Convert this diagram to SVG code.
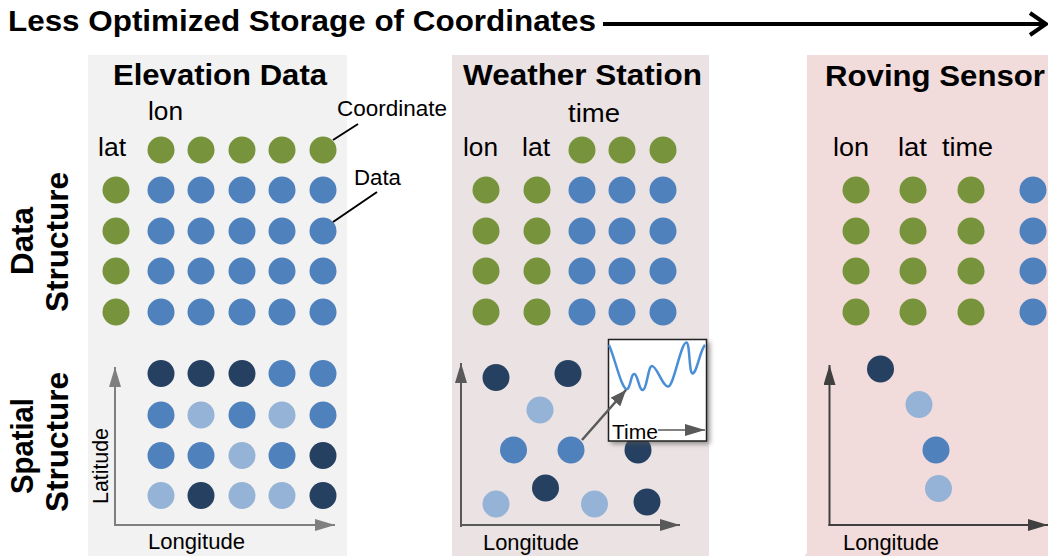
<svg xmlns="http://www.w3.org/2000/svg" width="1048" height="556" viewBox="0 0 1048 556">
<defs>
<style>
text{font-family:"Liberation Sans",Arial,sans-serif;fill:#000}
.b{font-weight:bold}
.hdr{font-size:30px;font-weight:bold;text-anchor:middle}
.lbl{font-size:25px}
.sm{font-size:22px}
.side{font-size:31px;font-weight:bold;text-anchor:middle}
.g{fill:#77933c}
.m{fill:#4f81bd}
.l{fill:#95b3d7}
.d{fill:#254061}
.lead{stroke:#000;stroke-width:2;fill:none}
</style>
<marker id="ah1" markerUnits="userSpaceOnUse" markerWidth="20" markerHeight="12" refX="20" refY="6" orient="auto"><path d="M0,0 L20,6 L0,12 z" fill="#7f7f7f"/></marker>
<marker id="ah2" markerUnits="userSpaceOnUse" markerWidth="20" markerHeight="12" refX="20" refY="6" orient="auto"><path d="M0,0 L20,6 L0,12 z" fill="#595959"/></marker>
<marker id="ah3" markerUnits="userSpaceOnUse" markerWidth="20" markerHeight="12" refX="20" refY="6" orient="auto"><path d="M0,0 L20,6 L0,12 z" fill="#404040"/></marker>
<marker id="ah4" markerUnits="userSpaceOnUse" markerWidth="16" markerHeight="13" refX="16" refY="6.5" orient="auto"><path d="M0,0 L16,6.5 L0,13 z" fill="#595959"/></marker>
<filter id="sh" x="-20%" y="-20%" width="140%" height="140%"><feGaussianBlur stdDeviation="2.5"/></filter>
</defs>
<rect width="1048" height="556" fill="#fff"/>

<g id="title">
<text class="b" x="8" y="31" font-size="29" textLength="588" lengthAdjust="spacingAndGlyphs">Less Optimized Storage of Coordinates</text>
<line x1="603" y1="24" x2="1043" y2="24" stroke="#000" stroke-width="4"/>
<polyline points="1030,13 1046,24 1030,35" fill="none" stroke="#000" stroke-width="4"/>
</g>

<g id="row-labels">
<text class="side" transform="translate(33,241) rotate(-90)" textLength="68" lengthAdjust="spacingAndGlyphs">Data</text>
<text class="side" transform="translate(68,242) rotate(-90)" textLength="140" lengthAdjust="spacingAndGlyphs">Structure</text>
<text class="side" transform="translate(33,446) rotate(-90)" textLength="96" lengthAdjust="spacingAndGlyphs">Spatial</text>
<text class="side" transform="translate(68,442) rotate(-90)" textLength="140" lengthAdjust="spacingAndGlyphs">Structure</text>
</g>

<g id="elevation">
<rect x="88" y="55" width="259" height="501" fill="#f2f2f2"/>
<text class="hdr" x="220" y="85" textLength="214" lengthAdjust="spacingAndGlyphs">Elevation Data</text>
<text class="lbl" x="148" y="120" textLength="35" lengthAdjust="spacingAndGlyphs">lon</text>
<text class="lbl" x="98" y="156" textLength="28" lengthAdjust="spacingAndGlyphs">lat</text>
<text class="sm" x="337" y="116" textLength="110" lengthAdjust="spacingAndGlyphs">Coordinate</text>
<text class="sm" x="354" y="185" textLength="47" lengthAdjust="spacingAndGlyphs">Data</text>
<g id="elev-data">
<circle class="g" cx="161" cy="150" r="13.5"/><circle class="g" cx="201" cy="150" r="13.5"/><circle class="g" cx="242" cy="150" r="13.5"/><circle class="g" cx="282" cy="150" r="13.5"/><circle class="g" cx="323" cy="150" r="13.5"/>
<circle class="g" cx="116" cy="190" r="13.5"/><circle class="g" cx="116" cy="231" r="13.5"/><circle class="g" cx="116" cy="271" r="13.5"/><circle class="g" cx="116" cy="312" r="13.5"/>
<circle class="m" cx="161" cy="190" r="13.5"/><circle class="m" cx="201" cy="190" r="13.5"/><circle class="m" cx="242" cy="190" r="13.5"/><circle class="m" cx="282" cy="190" r="13.5"/><circle class="m" cx="323" cy="190" r="13.5"/>
<circle class="m" cx="161" cy="231" r="13.5"/><circle class="m" cx="201" cy="231" r="13.5"/><circle class="m" cx="242" cy="231" r="13.5"/><circle class="m" cx="282" cy="231" r="13.5"/><circle class="m" cx="323" cy="231" r="13.5"/>
<circle class="m" cx="161" cy="271" r="13.5"/><circle class="m" cx="201" cy="271" r="13.5"/><circle class="m" cx="242" cy="271" r="13.5"/><circle class="m" cx="282" cy="271" r="13.5"/><circle class="m" cx="323" cy="271" r="13.5"/>
<circle class="m" cx="161" cy="312" r="13.5"/><circle class="m" cx="201" cy="312" r="13.5"/><circle class="m" cx="242" cy="312" r="13.5"/><circle class="m" cx="282" cy="312" r="13.5"/><circle class="m" cx="323" cy="312" r="13.5"/>
</g>
<g id="elev-spatial">
<line x1="115" y1="526" x2="115" y2="367" stroke="#7f7f7f" stroke-width="2" marker-end="url(#ah1)"/>
<line x1="114" y1="525" x2="335" y2="525" stroke="#7f7f7f" stroke-width="2" marker-end="url(#ah1)"/>
<text class="sm" transform="translate(108,466) rotate(-90)" text-anchor="middle" textLength="76" lengthAdjust="spacingAndGlyphs">Latitude</text>
<text class="sm" x="148" y="549" textLength="97" lengthAdjust="spacingAndGlyphs">Longitude</text>
<circle class="d" cx="161" cy="373.5" r="13.5"/><circle class="d" cx="201" cy="373.5" r="13.5"/><circle class="d" cx="242" cy="373.5" r="13.5"/><circle class="m" cx="282" cy="373.5" r="13.5"/><circle class="m" cx="323" cy="373.5" r="13.5"/>
<circle class="m" cx="161" cy="415" r="13.5"/><circle class="l" cx="201" cy="415" r="13.5"/><circle class="m" cx="242" cy="415" r="13.5"/><circle class="l" cx="282" cy="415" r="13.5"/><circle class="m" cx="323" cy="415" r="13.5"/>
<circle class="m" cx="161" cy="455.5" r="13.5"/><circle class="m" cx="201" cy="455.5" r="13.5"/><circle class="l" cx="242" cy="455.5" r="13.5"/><circle class="m" cx="282" cy="455.5" r="13.5"/><circle class="d" cx="323" cy="455.5" r="13.5"/>
<circle class="l" cx="161" cy="495.5" r="13.5"/><circle class="d" cx="201" cy="495.5" r="13.5"/><circle class="l" cx="242" cy="495.5" r="13.5"/><circle class="l" cx="282" cy="495.5" r="13.5"/><circle class="d" cx="323" cy="495.5" r="13.5"/>
</g>
</g>

<g id="weather">
<rect x="452" y="55" width="257" height="501" fill="#ebe2e3"/>
<text class="hdr" x="582.5" y="85" textLength="239" lengthAdjust="spacingAndGlyphs">Weather Station</text>
<text class="lbl" x="568" y="122" textLength="52" lengthAdjust="spacingAndGlyphs">time</text>
<text class="lbl" x="463" y="156" textLength="35" lengthAdjust="spacingAndGlyphs">lon</text>
<text class="lbl" x="522" y="156" textLength="28" lengthAdjust="spacingAndGlyphs">lat</text>
<g id="weather-data">
<circle class="g" cx="582" cy="150" r="13.5"/><circle class="g" cx="622" cy="150" r="13.5"/><circle class="g" cx="663" cy="150" r="13.5"/>
<circle class="g" cx="486" cy="190" r="13.5"/><circle class="g" cx="537" cy="190" r="13.5"/><circle class="m" cx="582" cy="190" r="13.5"/><circle class="m" cx="622" cy="190" r="13.5"/><circle class="m" cx="663" cy="190" r="13.5"/>
<circle class="g" cx="486" cy="231" r="13.5"/><circle class="g" cx="537" cy="231" r="13.5"/><circle class="m" cx="582" cy="231" r="13.5"/><circle class="m" cx="622" cy="231" r="13.5"/><circle class="m" cx="663" cy="231" r="13.5"/>
<circle class="g" cx="486" cy="271" r="13.5"/><circle class="g" cx="537" cy="271" r="13.5"/><circle class="m" cx="582" cy="271" r="13.5"/><circle class="m" cx="622" cy="271" r="13.5"/><circle class="m" cx="663" cy="271" r="13.5"/>
<circle class="g" cx="486" cy="312" r="13.5"/><circle class="g" cx="537" cy="312" r="13.5"/><circle class="m" cx="582" cy="312" r="13.5"/><circle class="m" cx="622" cy="312" r="13.5"/><circle class="m" cx="663" cy="312" r="13.5"/>
</g>
<g id="weather-spatial">
<line x1="461" y1="527" x2="461" y2="363" stroke="#595959" stroke-width="2" marker-end="url(#ah2)"/>
<line x1="460" y1="525" x2="680" y2="525" stroke="#595959" stroke-width="2" marker-end="url(#ah2)"/>
<text class="sm" x="483" y="550" textLength="96" lengthAdjust="spacingAndGlyphs">Longitude</text>
<circle class="d" cx="496" cy="377.5" r="13.5"/>
<circle class="d" cx="568" cy="373.5" r="13.5"/>
<circle class="l" cx="540" cy="410" r="13.5"/>
<circle class="m" cx="513.5" cy="450" r="13.5"/>
<circle class="m" cx="571" cy="450" r="13.5"/>
<circle class="d" cx="638" cy="450" r="13.5"/>
<circle class="d" cx="545.5" cy="488" r="13.5"/>
<circle class="l" cx="496" cy="504" r="13.5"/>
<circle class="l" cx="594.5" cy="504" r="13.5"/>
<circle class="d" cx="647" cy="502" r="13.5"/>
</g>
<g id="time-inset">
<rect x="611" y="342" width="99" height="102" fill="#555" opacity="0.6" filter="url(#sh)"/>
<rect x="608.5" y="339.5" width="98" height="101.5" fill="#fff" stroke="#222" stroke-width="1.5"/>
<path d="M609,345 C615,358 622,392 627.5,389 C631,386 631,373 634.5,374 C638,375 639,391 643,390 C647,389 648,366 652,366 C657,366 663,388 668.5,386.5 C674,385 681,342 686.5,342.5 C690,343 689,374 692.5,373.5 C697,373 700,350 705,345" fill="none" stroke="#4a8fd6" stroke-width="2.5"/>
<text x="612" y="438.5" font-size="20" textLength="46" lengthAdjust="spacingAndGlyphs">Time</text>
<line x1="658" y1="430" x2="705" y2="430" stroke="#595959" stroke-width="1.5" marker-end="url(#ah2)"/>
</g>
</g>

<g id="roving">
<circle cx="822" cy="566" r="20" fill="#e3e3e3"/>
<rect x="807" y="55" width="241" height="501" fill="#f2dcdb"/>
<text class="hdr" x="935" y="86" textLength="220" lengthAdjust="spacingAndGlyphs">Roving Sensor</text>
<text class="lbl" x="833" y="156" textLength="36" lengthAdjust="spacingAndGlyphs">lon</text>
<text class="lbl" x="898" y="156" textLength="29" lengthAdjust="spacingAndGlyphs">lat</text>
<text class="lbl" x="942" y="156" textLength="51" lengthAdjust="spacingAndGlyphs">time</text>
<g id="roving-data">
<circle class="g" cx="856" cy="190" r="13.5"/><circle class="g" cx="913" cy="190" r="13.5"/><circle class="g" cx="971" cy="190" r="13.5"/><circle class="m" cx="1033" cy="190" r="13.5"/>
<circle class="g" cx="856" cy="231" r="13.5"/><circle class="g" cx="913" cy="231" r="13.5"/><circle class="g" cx="971" cy="231" r="13.5"/><circle class="m" cx="1033" cy="231" r="13.5"/>
<circle class="g" cx="856" cy="271" r="13.5"/><circle class="g" cx="913" cy="271" r="13.5"/><circle class="g" cx="971" cy="271" r="13.5"/><circle class="m" cx="1033" cy="271" r="13.5"/>
<circle class="g" cx="856" cy="312" r="13.5"/><circle class="g" cx="913" cy="312" r="13.5"/><circle class="g" cx="971" cy="312" r="13.5"/><circle class="m" cx="1033" cy="312" r="13.5"/>
</g>
<g id="roving-spatial">
<line x1="829.5" y1="526" x2="829.5" y2="365" stroke="#404040" stroke-width="2" marker-end="url(#ah3)"/>
<line x1="828.5" y1="525" x2="1048" y2="525" stroke="#404040" stroke-width="2" marker-end="url(#ah3)"/>
<text class="sm" x="843" y="550" textLength="96" lengthAdjust="spacingAndGlyphs">Longitude</text>
<circle class="d" cx="880.5" cy="369" r="13.5"/>
<circle class="l" cx="919" cy="404.5" r="13.5"/>
<circle class="m" cx="936" cy="450" r="13.5"/>
<circle class="l" cx="938.5" cy="488.5" r="13.5"/>
</g>
</g>

<g id="connectors">
<line class="lead" x1="358" y1="124" x2="333" y2="140"/>
<line class="lead" x1="377" y1="192" x2="333" y2="222"/>
<line x1="582" y1="440" x2="626" y2="390" stroke="#595959" stroke-width="2.5" marker-end="url(#ah4)"/>
</g>
</svg>
